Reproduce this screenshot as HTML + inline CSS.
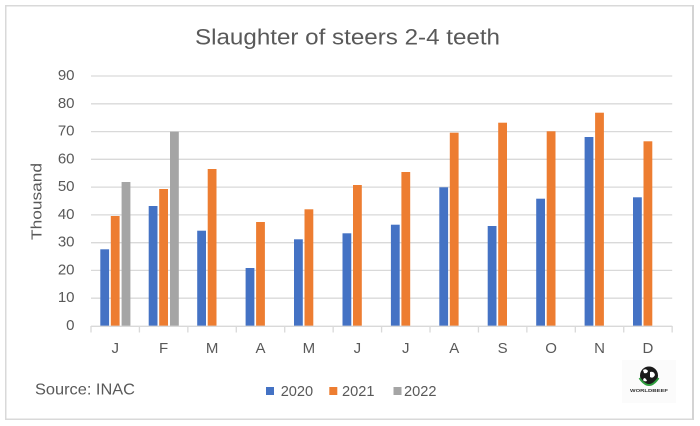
<!DOCTYPE html>
<html>
<head>
<meta charset="utf-8">
<style>
  html, body { margin: 0; padding: 0; background: #ffffff; }
  svg { display: block; }
  text { font-family: "Liberation Sans", Arial, sans-serif; fill: #595959; }
</style>
</head>
<body>
<svg width="700" height="426" viewBox="0 0 700 426" xmlns="http://www.w3.org/2000/svg">
  <rect x="0" y="0" width="700" height="426" fill="#ffffff"/>
  <!-- outer frame -->
  <rect x="5.75" y="5.75" width="687" height="413.5" fill="none" stroke="#d9d9d9" stroke-width="1.5"/>
  <line x1="693" y1="5" x2="693" y2="420" stroke="#d4d4d4" stroke-width="2"/>

  <!-- title -->
  <text x="195" y="44.3" font-size="22" textLength="305" lengthAdjust="spacingAndGlyphs">Slaughter of steers 2-4 teeth</text>

  <!-- gridlines -->
  <g stroke="#d9d9d9" stroke-width="1.3">
    <line x1="91" y1="76" x2="672.2" y2="76"/>
    <line x1="91" y1="103.8" x2="672.2" y2="103.8"/>
    <line x1="91" y1="131.6" x2="672.2" y2="131.6"/>
    <line x1="91" y1="159.3" x2="672.2" y2="159.3"/>
    <line x1="91" y1="187.1" x2="672.2" y2="187.1"/>
    <line x1="91" y1="214.9" x2="672.2" y2="214.9"/>
    <line x1="91" y1="242.7" x2="672.2" y2="242.7"/>
    <line x1="91" y1="270.4" x2="672.2" y2="270.4"/>
    <line x1="91" y1="298.2" x2="672.2" y2="298.2"/>
  </g>

  <!-- y labels -->
  <g font-size="15" text-anchor="end">
    <text x="74.5" y="80">90</text>
    <text x="74.5" y="107.8">80</text>
    <text x="74.5" y="135.6">70</text>
    <text x="74.5" y="163.3">60</text>
    <text x="74.5" y="191.1">50</text>
    <text x="74.5" y="218.9">40</text>
    <text x="74.5" y="246.7">30</text>
    <text x="74.5" y="274.4">20</text>
    <text x="74.5" y="302.2">10</text>
    <text x="74.5" y="330">0</text>
  </g>

  <!-- y axis title -->
  <text transform="translate(41.5,201.5) rotate(-90)" font-size="15" text-anchor="middle" textLength="77" lengthAdjust="spacingAndGlyphs">Thousand</text>

  <!-- bars 2020 -->
  <g fill="#4472c4">
    <rect x="100.3" y="249.3" width="8.8" height="76.7"/>
    <rect x="148.7" y="206" width="8.8" height="120"/>
    <rect x="197.2" y="230.7" width="8.8" height="95.3"/>
    <rect x="245.6" y="268" width="8.8" height="58"/>
    <rect x="294.0" y="239.3" width="8.8" height="86.7"/>
    <rect x="342.5" y="233.3" width="8.8" height="92.7"/>
    <rect x="390.9" y="224.7" width="8.8" height="101.3"/>
    <rect x="439.3" y="187.3" width="8.8" height="138.7"/>
    <rect x="487.7" y="226" width="8.8" height="100"/>
    <rect x="536.2" y="198.7" width="8.8" height="127.3"/>
    <rect x="584.6" y="137" width="8.8" height="189"/>
    <rect x="633.0" y="197.3" width="8.8" height="128.7"/>
  </g>
  <!-- bars 2021 -->
  <g fill="#ed7d31">
    <rect x="110.8" y="216" width="8.8" height="110"/>
    <rect x="159.2" y="189" width="8.8" height="137"/>
    <rect x="207.7" y="169" width="8.8" height="157"/>
    <rect x="256.1" y="222" width="8.8" height="104"/>
    <rect x="304.5" y="209.3" width="8.8" height="116.7"/>
    <rect x="353.0" y="185" width="8.8" height="141"/>
    <rect x="401.4" y="172" width="8.8" height="154"/>
    <rect x="449.8" y="132.7" width="8.8" height="193.3"/>
    <rect x="498.2" y="122.7" width="8.8" height="203.3"/>
    <rect x="546.7" y="131.3" width="8.8" height="194.7"/>
    <rect x="595.1" y="112.7" width="8.8" height="213.3"/>
    <rect x="643.5" y="141.3" width="8.8" height="184.7"/>
  </g>
  <!-- bars 2022 -->
  <g fill="#a5a5a5">
    <rect x="121.6" y="182" width="8.8" height="144"/>
    <rect x="170.0" y="131.7" width="8.8" height="194.3"/>
  </g>

  <!-- x axis -->
  <g stroke="#d9d9d9" stroke-width="1.3">
    <line x1="91" y1="326.3" x2="672.2" y2="326.3"/>
    <line x1="91" y1="326" x2="91" y2="332.5"/>
    <line x1="139.43" y1="326" x2="139.43" y2="332.5"/>
    <line x1="187.86" y1="326" x2="187.86" y2="332.5"/>
    <line x1="236.29" y1="326" x2="236.29" y2="332.5"/>
    <line x1="284.72" y1="326" x2="284.72" y2="332.5"/>
    <line x1="333.15" y1="326" x2="333.15" y2="332.5"/>
    <line x1="381.58" y1="326" x2="381.58" y2="332.5"/>
    <line x1="430.01" y1="326" x2="430.01" y2="332.5"/>
    <line x1="478.44" y1="326" x2="478.44" y2="332.5"/>
    <line x1="526.87" y1="326" x2="526.87" y2="332.5"/>
    <line x1="575.3" y1="326" x2="575.3" y2="332.5"/>
    <line x1="623.73" y1="326" x2="623.73" y2="332.5"/>
    <line x1="672.16" y1="326" x2="672.16" y2="332.5"/>
  </g>

  <!-- x labels -->
  <g font-size="15" text-anchor="middle">
    <text x="115.2" y="353">J</text>
    <text x="163.6" y="353">F</text>
    <text x="212.1" y="353">M</text>
    <text x="260.5" y="353">A</text>
    <text x="308.9" y="353">M</text>
    <text x="357.4" y="353">J</text>
    <text x="405.8" y="353">J</text>
    <text x="454.2" y="353">A</text>
    <text x="502.6" y="353">S</text>
    <text x="551.1" y="353">O</text>
    <text x="599.5" y="353">N</text>
    <text x="647.9" y="353">D</text>
  </g>

  <!-- source -->
  <text x="35" y="394.3" font-size="16" textLength="100" lengthAdjust="spacingAndGlyphs">Source: INAC</text>

  <!-- legend -->
  <rect x="266" y="387" width="8" height="8" fill="#4472c4"/>
  <text x="280.7" y="396" font-size="15" textLength="32.5" lengthAdjust="spacingAndGlyphs">2020</text>
  <rect x="329.3" y="387" width="8" height="8" fill="#ed7d31"/>
  <text x="342" y="396" font-size="15" textLength="32.5" lengthAdjust="spacingAndGlyphs">2021</text>
  <rect x="393.5" y="387" width="8" height="8" fill="#a5a5a5"/>
  <text x="404" y="396" font-size="15" textLength="32.5" lengthAdjust="spacingAndGlyphs">2022</text>

  <!-- logo -->
  <rect x="622" y="360" width="54" height="43" fill="#fbfbfb"/>
  <circle cx="649" cy="375.5" r="9" fill="#1a1a1a"/>
  <path d="M643 370 q3 -2 5 1 q-1 3 -4 2 z" fill="#ffffff"/>
  <path d="M650 372 q4 -1 5 3 q-2 4 -5 2 z" fill="#ffffff"/>
  <path d="M644 378 q2 0 3 3 q-3 1 -4 -1 z" fill="#ffffff"/>
  <path d="M639.5 378 Q649 392 658.5 378" fill="none" stroke="#2e9e3e" stroke-width="2"/>
  <text x="649" y="392" font-size="4.5" font-weight="bold" text-anchor="middle" textLength="38" lengthAdjust="spacingAndGlyphs" style="fill:#333333">WORLDBEEF</text>
</svg>
</body>
</html>
